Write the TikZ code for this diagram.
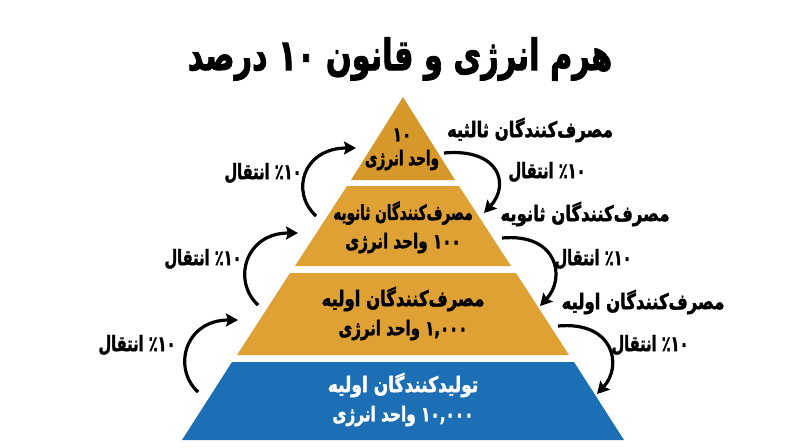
\documentclass[tikz,border=0pt]{standalone}
\usepackage{fontspec}
\usepackage{graphicx}
\usetikzlibrary{arrows.meta,calc}
\TeXXeTstate=1
\newfontfamily\fa[Script=Arabic,BoldFeatures={FakeBold=2.2}]{DejaVu Sans}
\newcommand\rl[1]{\beginR #1\endR}
\newcommand\sx[3]{\scalebox{#1}[#2]{#3}}
\definecolor{gold}{HTML}{DFA133}
\definecolor{goldtop}{HTML}{D6972B}
\definecolor{tierblue}{HTML}{1C6FB4}
\begin{document}
\begin{tikzpicture}[x=1pt,y=-1pt,
  titlestyle/.style={font=\fa\bfseries\fontsize{33}{40}\selectfont, inner sep=0pt},
  tiertext/.style={font=\fa\bfseries\fontsize{17}{20}\selectfont, inner sep=0pt},
  sidetext/.style={font=\fa\bfseries\fontsize{17}{20}\selectfont, inner sep=0pt},
  flow/.style={line width=3.2pt, -{Stealth[length=12pt,width=13pt,inset=2pt]}}]
\useasboundingbox (0,0) rectangle (800,447);
\fill[white] (0,0) rectangle (800,447);
% tiers
\fill[goldtop] (403,97) -- (455,180) -- (351,180) -- cycle;
\fill[gold] (347,186) -- (459,186) -- (511,266) -- (295,266) -- cycle;
\fill[gold] (290,273) -- (516,273) -- (569,355) -- (237,355) -- cycle;
\fill[tierblue] (232,362) -- (574,362) -- (624,440) -- (182,440) -- cycle;
% title
\node[titlestyle] (title) at (400,59) {\sx{0.92}{1.3}{\rl{هرم انرژی و قانون ۱۰ درصد}}};
% tier texts
\node[tiertext] (t1a) at (402,135) {\sx{0.9}{1.2}{۱۰}};
\node[tiertext] (t1b) at (402,160) {\sx{0.80}{1.2}{\rl{واحد انرژی}}};
\node[tiertext] (t2a) at (403,213) {\sx{0.80}{1.2}{\rl{مصرف‌کنندگان ثانویه}}};
\node[tiertext] (t2b) at (403,243) {\sx{0.89}{1.2}{\rl{۱۰۰ واحد انرژی}}};
\node[tiertext] (t3a) at (403,299) {\sx{0.97}{1.25}{\rl{مصرف‌کنندگان اولیه}}};
\node[tiertext] (t3b) at (403,330) {\sx{0.88}{1.2}{\rl{۱,۰۰۰ واحد انرژی}}};
\node[tiertext,text=white] (t4a) at (403,385) {\sx{1.0}{1.25}{\rl{تولیدکنندگان اولیه}}};
\node[tiertext,text=white] (t4b) at (403,416) {\sx{0.9}{1.2}{\rl{۱۰,۰۰۰ واحد انرژی}}};
% side labels right
\node[sidetext] (r1) at (530,130) {\sx{0.97}{1.25}{\rl{مصرف‌کنندگان ثالثیه}}};
\node[sidetext] (r2) at (547,172) {\sx{0.86}{1.25}{\rl{٪۱۰ انتقال}}};
\node[sidetext] (r3) at (585,214) {\sx{0.97}{1.25}{\rl{مصرف‌کنندگان ثانویه}}};
\node[sidetext] (r4) at (593,259) {\sx{0.86}{1.25}{\rl{٪۱۰ انتقال}}};
\node[sidetext] (r5) at (643,302) {\sx{0.97}{1.25}{\rl{مصرف‌کنندگان اولیه}}};
\node[sidetext] (r6) at (650,345) {\sx{0.86}{1.25}{\rl{٪۱۰ انتقال}}};
% side labels left
\node[sidetext] (l1) at (263,173) {\sx{0.86}{1.25}{\rl{٪۱۰ انتقال}}};
\node[sidetext] (l2) at (203,259) {\sx{0.86}{1.25}{\rl{٪۱۰ انتقال}}};
\node[sidetext] (l3) at (137,345) {\sx{0.86}{1.25}{\rl{٪۱۰ انتقال}}};
% arrow end points
\coordinate (la1) at (198,392); \coordinate (lb1) at (238,320);
\coordinate (la2) at (258,305); \coordinate (lb2) at (298,233);
\coordinate (la3) at (316,216); \coordinate (lb3) at (356,148);
\coordinate (ra1) at (444,153); \coordinate (rb1) at (484,213);
\coordinate (ra2) at (502,238); \coordinate (rb2) at (540,306);
\coordinate (ra3) at (558,326); \coordinate (rb3) at (597,394);
% left arrows (upwards)
\foreach \i in {1,2,3}{
  \draw[flow] (la\i) .. controls ($(la\i)+(-26,-24)$) and ($(lb\i)+(-53,0)$) .. (lb\i);
}
% right arrows (downwards)
\foreach \i in {1,2,3}{
  \draw[flow] (ra\i) .. controls ($(ra\i)+(56,-5)$) and ($(rb\i)+(26,-28)$) .. (rb\i);
}
\end{tikzpicture}
\end{document}
